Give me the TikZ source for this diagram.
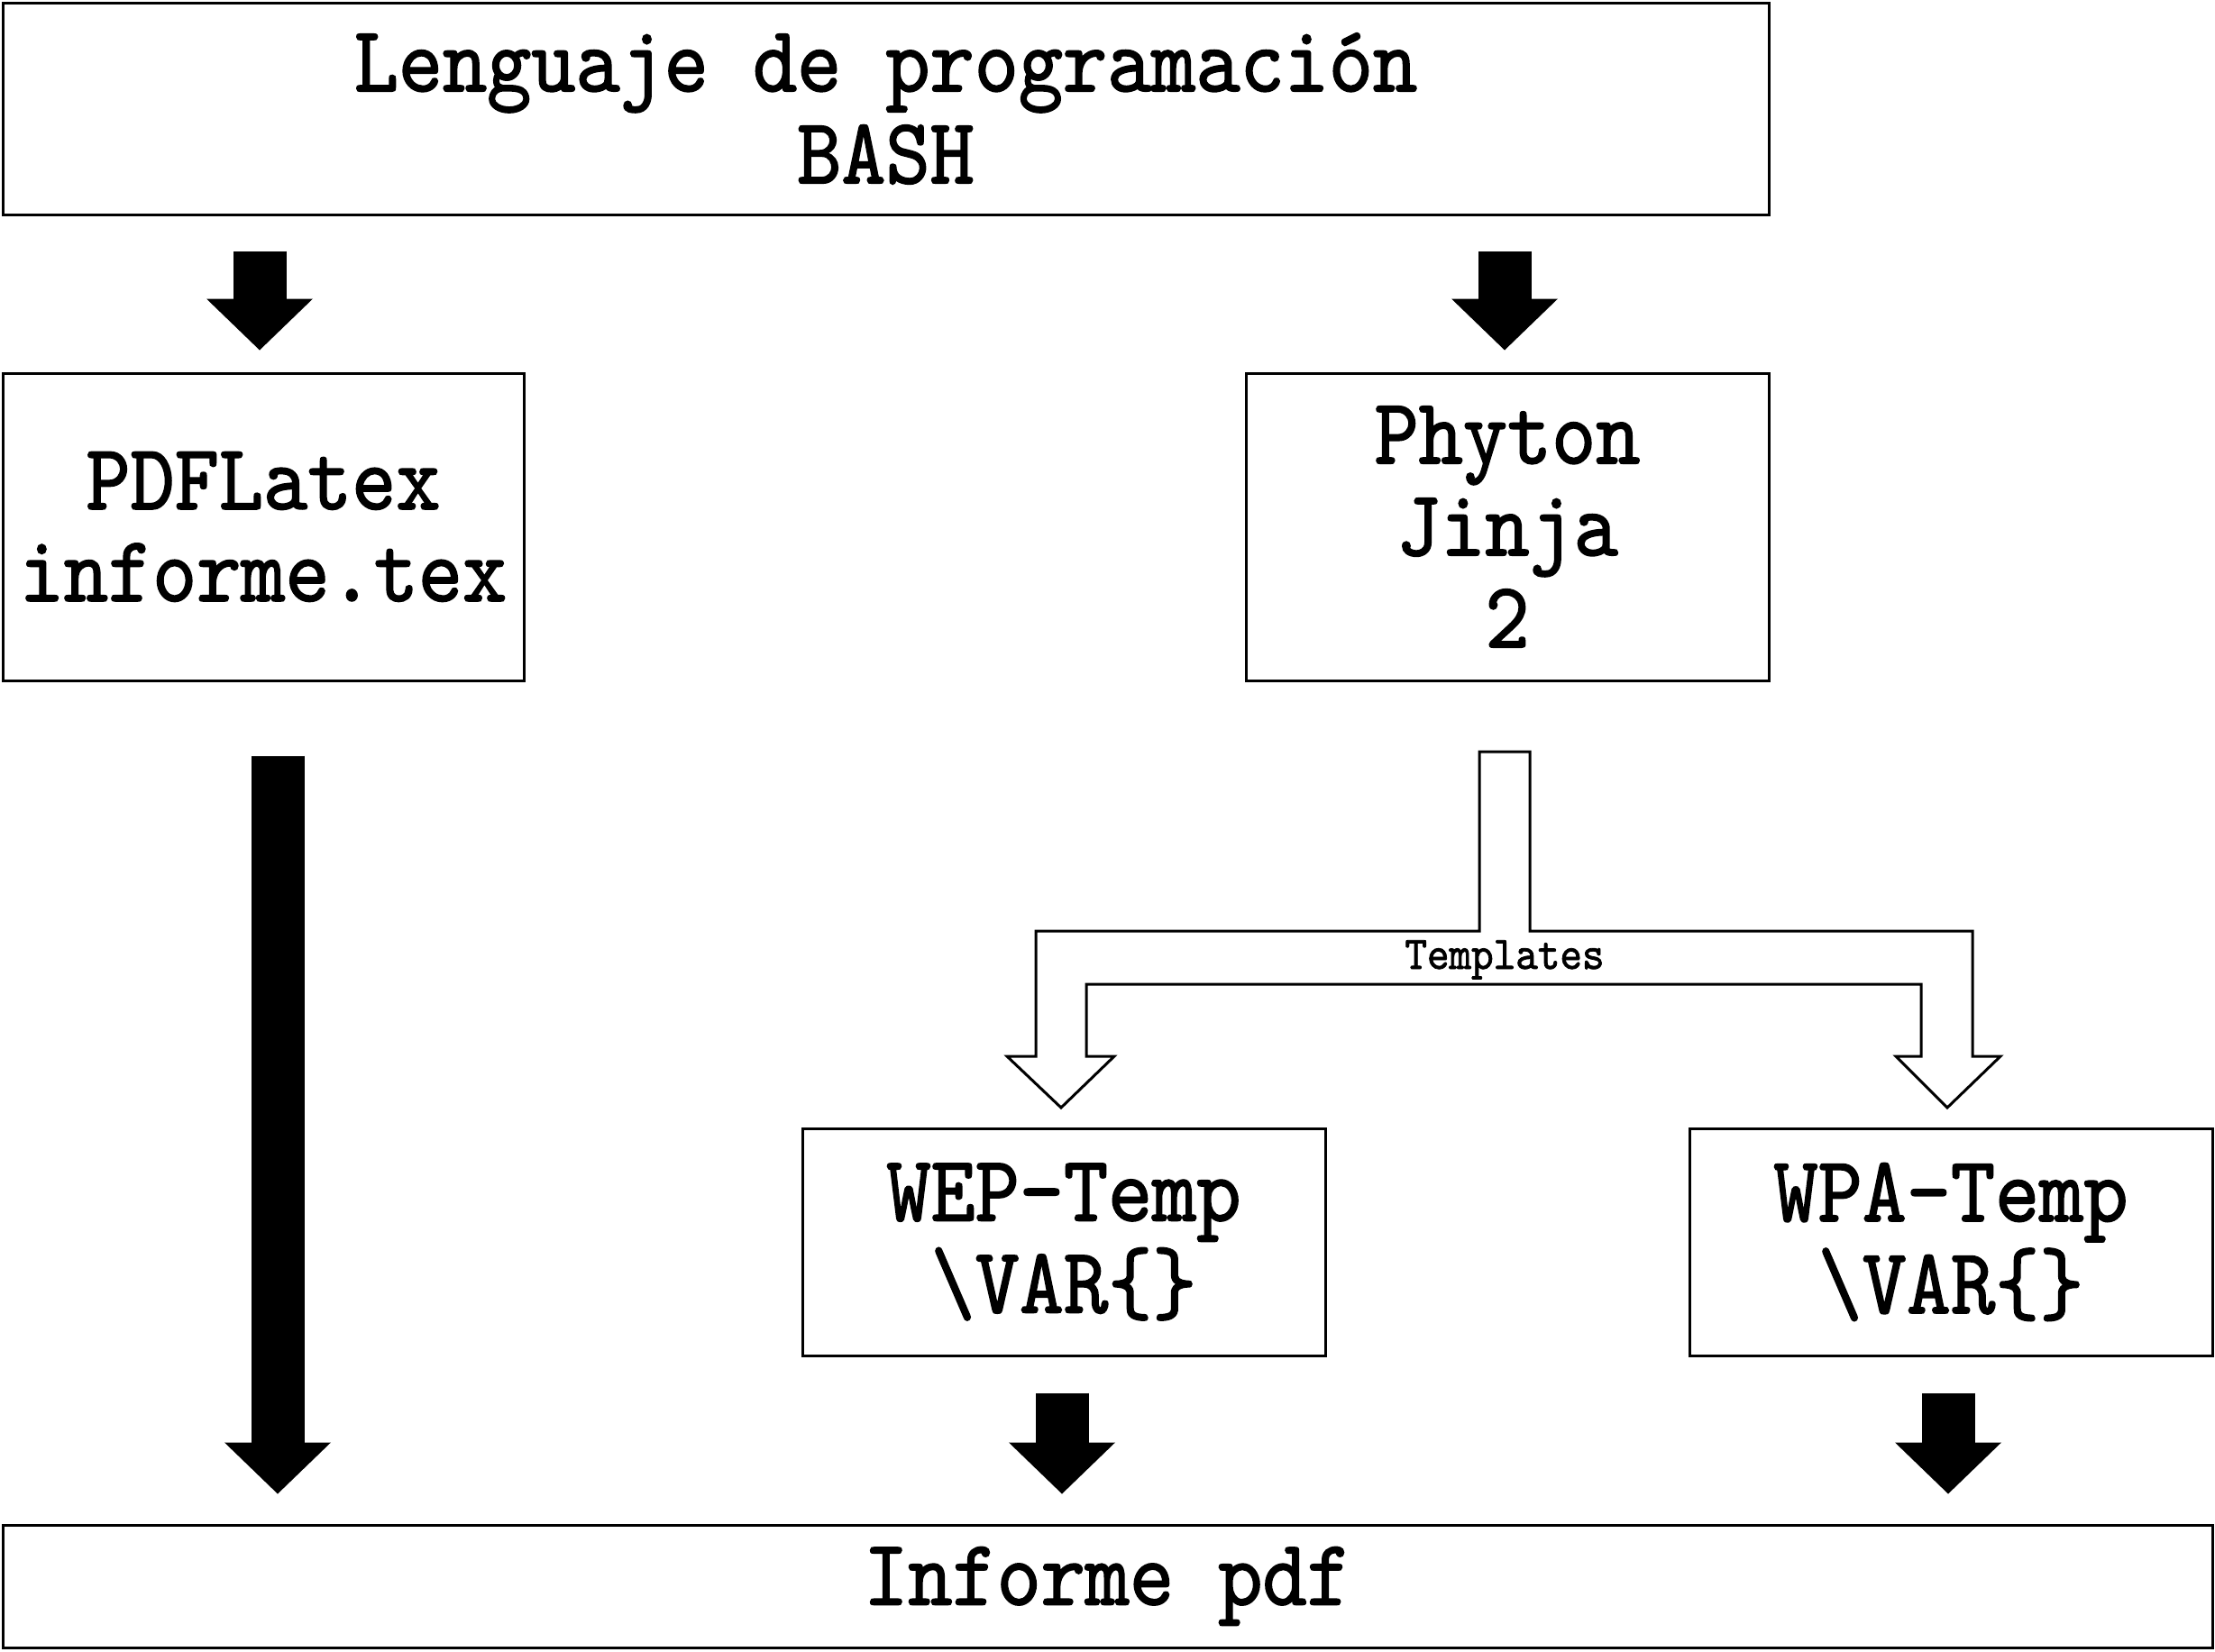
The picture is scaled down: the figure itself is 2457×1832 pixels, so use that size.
\documentclass[tikz,border=0pt]{standalone}
\usepackage{fontspec}
\newfontfamily\twfont{lmmono10-regular.otf}[FakeBold=1.5,FakeStretch=0.9]
\usetikzlibrary{calc,arrows.meta}
\begin{document}
\begin{tikzpicture}[x=0.5pt,y=-0.5pt,
  box/.style={draw, line width=1.5pt, rectangle, align=center, inner sep=0pt,
    font=\twfont\fontsize{52pt}{51pt}\selectfont},
  blkarrow/.style={line width=29.5pt, -{Triangle[length=28.5pt,width=59pt,line width=0pt]}},
  hollowarrow/.style={draw, fill=white, line width=1.5pt, line join=miter},
  lbl/.style={font=\twfont\fontsize{26pt}{26pt}\selectfont, inner sep=0pt}]
\useasboundingbox (0,0) rectangle (2457,1832);

\node[box, minimum width=979.5pt, minimum height=117.5pt] (top) at (982.5,120.5) {Lenguaje de programación\\BASH};
\node[box, minimum width=289pt, minimum height=170.5pt] (pdf) at (292,584.5) {PDFLatex\\informe.tex};
\node[box, minimum width=290pt, minimum height=170.5pt] (phy) at (1672,584.5) {Phyton\\Jinja\\2};
\node[box, minimum width=290pt, minimum height=126pt] (wep) at (1180,1378) {WEP-Temp\\\textbackslash VAR\{\}};
\node[box, minimum width=290pt, minimum height=126pt] (wpa) at (2164,1378) {WPA-Temp\\\textbackslash VAR\{\}};
\node[box, minimum width=1225.5pt, minimum height=68pt] (bot) at (1228.5,1760) {Informe pdf};

% solid arrows
\draw[blkarrow] ($(top.south -| pdf.north)+(-2pt,-19.5pt)$) -- ($(pdf.north)+(-2pt,12pt)$);
\draw[blkarrow] ($(top.south -| phy.north)+(-1.5pt,-19.5pt)$) -- ($(phy.north)+(-1.5pt,12pt)$);
\draw[blkarrow] ($(pdf.south)+(8pt,-41pt)$) -- ($(bot.north -| pdf.south)+(8pt,16.5pt)$);
\draw[blkarrow] ($(wep.south)+(-1pt,-20pt)$) -- ($(bot.north -| wep.south)+(-1pt,16.5pt)$);
\draw[blkarrow] ($(wpa.south)+(-1.5pt,-20pt)$) -- ($(bot.north -| wpa.south)+(-1.5pt,16.5pt)$);

% hollow branching arrow
\draw[hollowarrow] (1641,834) -- (1697,834) -- (1697,1033) -- (2188,1033) -- (2188,1172)
  -- (2219,1172) -- (2160,1229) -- (2103,1172) -- (2131,1172) -- (2131,1092)
  -- (1205,1092) -- (1205,1172) -- (1236,1172) -- (1177,1229) -- (1117,1172)
  -- (1149,1172) -- (1149,1033) -- (1641,1033) -- cycle;
\node[lbl, anchor=base] (tpl) at (1669,1075) {Templates};
\end{tikzpicture}
\end{document}
